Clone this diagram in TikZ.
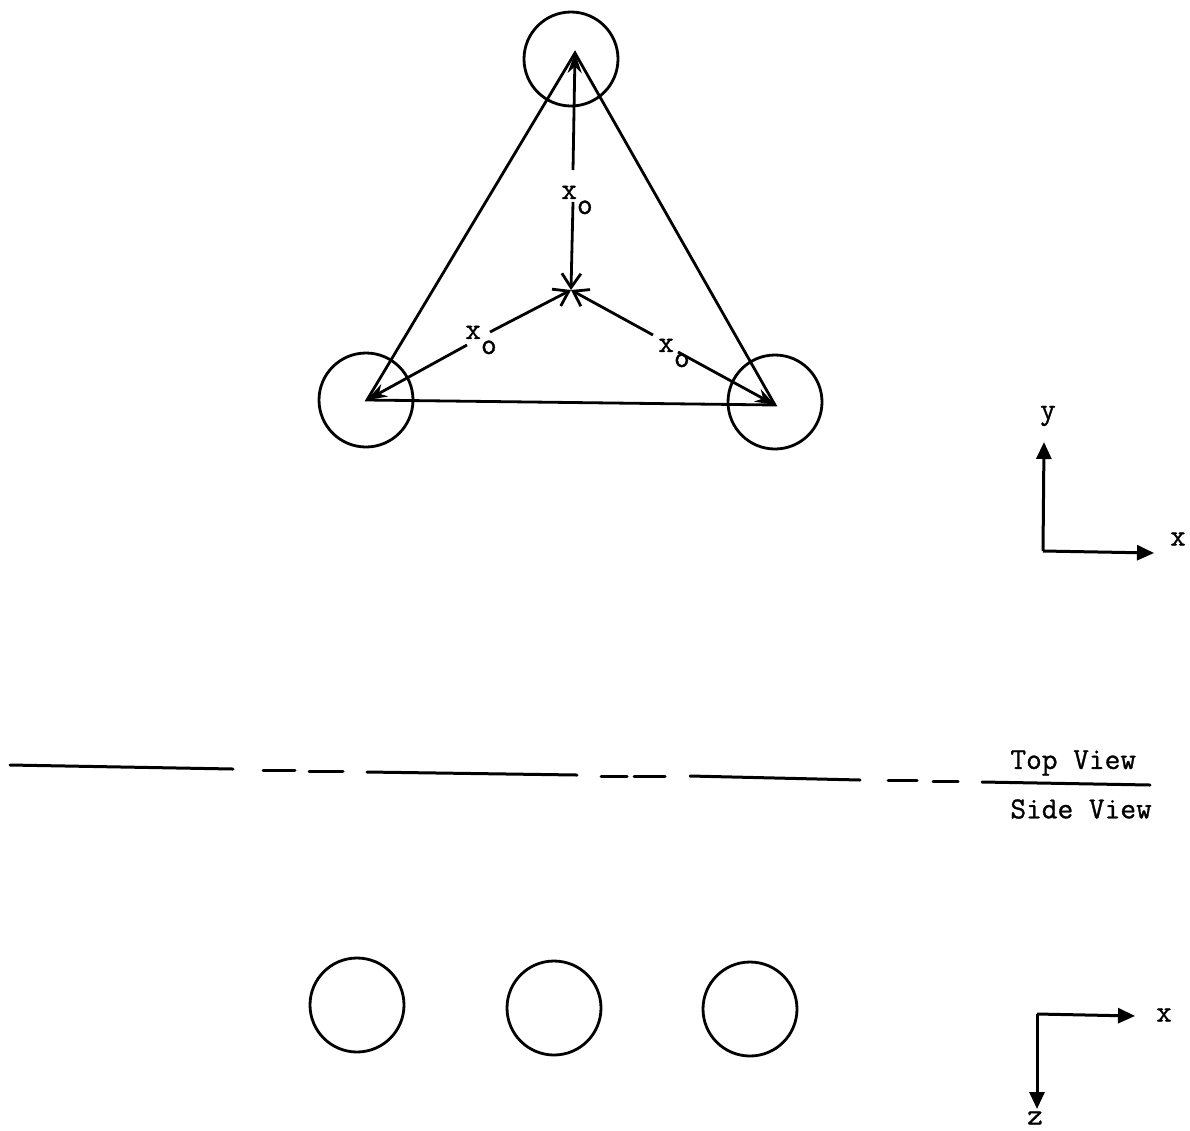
\documentclass[tikz,border=0pt]{standalone}
\usepackage{fontspec}
\setmonofont[FakeBold=1]{Latin Modern Mono}
\usetikzlibrary{positioning, arrows.meta}

\begin{document}
\begin{tikzpicture}[
    x=1pt, y=-1pt, >={Straight Barb[length=14pt, width=19pt]},
    line width=2.8pt,
    ball/.style={circle, draw, minimum size=94pt, inner sep=0pt},
    lbl/.style={font=\ttfamily\fontsize{30.5}{30.5}\selectfont, inner sep=0pt},
    xnode/.style={font=\ttfamily\fontsize{30.5}{30.5}\selectfont, inner sep=2pt},
    axis/.style={line width=3pt, -{Triangle[length=17pt, width=15pt]}},
    vtip/.style={-{Stealth[length=20pt, width=14pt]}},
    rule/.style={line width=3pt, line cap=round}
]
    \useasboundingbox (0,0) rectangle (1190,1130);

    % Top View
    \node[ball] (TOPB) at (571,59) {};
    \node[ball] (LEFTB) at (366,400) {};
    \node[ball] (RIGHTB) at (775,402) {};
    \coordinate (APEX) at (575,53);
    \coordinate (LEFTV) at (367,400);
    \coordinate (RIGHTV) at (775,405);
    \coordinate (CENTRE) at (571,290);

    % Triangle
    \draw (APEX) -- (LEFTV) -- (RIGHTV) -- cycle;

    % Distance labels
    \node[xnode] (XTOP) at (577,200) {x\raisebox{-15pt}{o}};
    \node[xnode] (XLEFT) at (481,340) {x\raisebox{-15pt}{o}};
    \node[xnode] (XRIGHT) at (674,353) {x\raisebox{-15pt}{o}};

    \draw[vtip] ([shift={(-4,-30)}]XTOP.center) -- (APEX);
    \draw[->] ([shift={(-4,2)}]XTOP.center) -- (CENTRE);
    \draw[vtip] ([shift={(-14,5)}]XLEFT.center) -- (LEFTV);
    \draw[->] ([shift={(9,-8)}]XLEFT.center) -- (CENTRE);
    \draw[vtip] ([shift={(4,-1)}]XRIGHT.center) -- (RIGHTV);
    \draw[->] ([shift={(-21,-18)}]XRIGHT.center) -- (CENTRE);

    % Axes, top
    \coordinate (ORGA) at (1043,551);
    \node[lbl] (YA) at (1048,416) {y};
    \node[lbl] (XA) at (1178,539) {x};
    \draw[axis] (ORGA) -- (1044,442);
    \draw[axis] (ORGA) -- (1154,553);

    % Divider
    \draw[rule] (10,765) -- (233,769);
    \draw[rule] (263,770) -- (295,770) (309,771) -- (343,771);
    \draw[rule] (367,772) -- (577,775);
    \draw[rule] (601,776) -- (627,776) (634,776) -- (665,776);
    \draw[rule] (690,776) -- (860,780);
    \draw[rule] (888,780) -- (917,780) (933,781) -- (958,781);
    \draw[rule] (982,782) -- (1150,785);
    \node[lbl, anchor=west] (TOPV) at (1009,763) {Top View};
    \node[lbl, anchor=west] (SIDEV) at (1009,809) {Side View};

    % Side View
    \node[ball] (BA) at (357,1005) {};
    \node[ball] (BB) at (554,1008) {};
    \node[ball] (BC) at (750,1009) {};

    % Axes, bottom
    \coordinate (ORGB) at (1037,1014);
    \node[lbl] (XB) at (1164,1015) {x};
    \node[lbl] (ZB) at (1035,1118) {z};
    \draw[axis] (ORGB) -- (1135,1016);
    \draw[axis] (ORGB) -- (1037,1109);

\end{tikzpicture}
\end{document}
